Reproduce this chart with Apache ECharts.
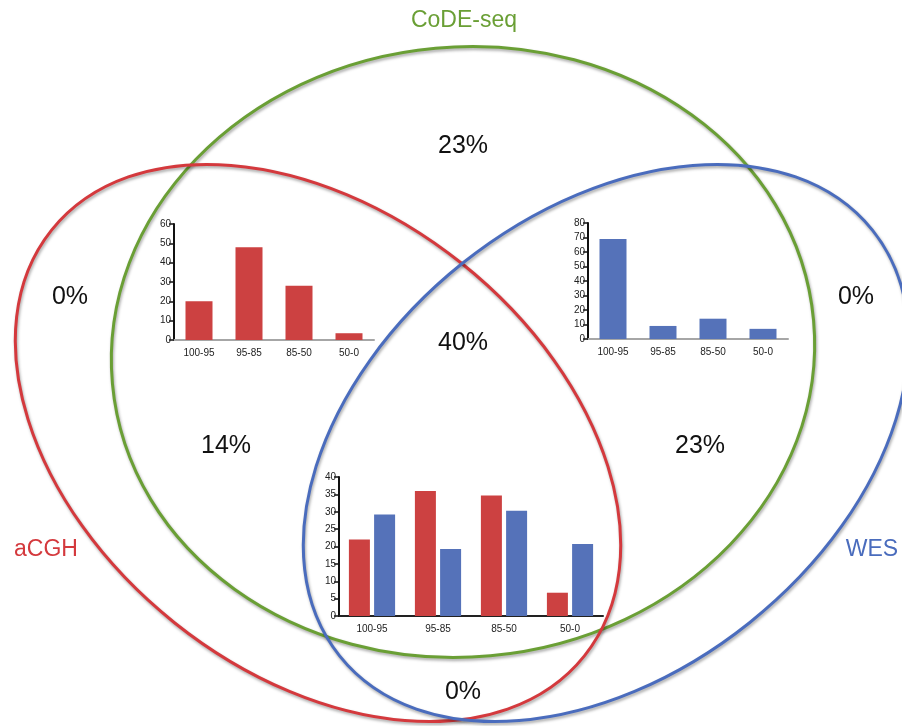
<!DOCTYPE html>
<html>
<head>
<meta charset="utf-8">
<script src="https://cdn.jsdelivr.net/npm/echarts@6/dist/echarts.min.js"></script>
<style>
  html, body { margin: 0; padding: 0; background: #ffffff; }
  #chart { width: 902px; height: 726px; }
</style>
</head>
<body>
<div id="chart"></div>
<script>
// Concordance bins shared by all three histograms
const bins = ['100-95', '95-85', '85-50', '50-0'];

// aCGH ∩ CoDE-seq histogram
const acghCodeseq = [20, 48, 28, 3.5];
// WES ∩ CoDE-seq histogram
const wesCodeseq = [69, 9, 14, 7];
// aCGH ∩ WES ∩ CoDE-seq histograms
const tripleAcgh = [22, 36, 34.7, 6.7];
const tripleWes = [29.2, 19.3, 30.3, 20.7];

// Method names and region shares
const methods = ['aCGH', 'CoDE-seq', 'WES'];
const regionShares = ['0%', '23%', '0%', '40%', '14%', '23%', '0%'];

// Outline colours for each method
const COLORS = { 'aCGH': '#d4393d', 'CoDE-seq': '#6a9f35', 'WES': '#4a6cbd' };
const BAR_RED = '#cc4141';
const BAR_BLUE = '#5572b9';

// Ellipse geometry of each set outline
const outlines = [
  { name: 'CoDE-seq', cx: 463, cy: 352, rx: 352, ry: 305, rot: 0.09 },
  { name: 'aCGH',     cx: 318, cy: 443, rx: 341, ry: 230, rot: -0.674 },
  { name: 'WES',      cx: 606, cy: 443, rx: 341, ry: 230, rot: 0.674 }
];

// Where the method names and shares are written
const nameSpots = [
  { x: 46, y: 550 },   // aCGH
  { x: 464, y: 21 },   // CoDE-seq
  { x: 872, y: 550 }   // WES
];
const shareSpots = [
  { x: 70, y: 297 }, { x: 463, y: 146 }, { x: 856, y: 297 },
  { x: 463, y: 343 }, { x: 226, y: 446 }, { x: 700, y: 446 },
  { x: 463, y: 692 }
];

const FONT = '"Liberation Sans", Arial, sans-serif';

const shadow = {
  shadowBlur: 3,
  shadowColor: 'rgba(0,0,0,0.35)',
  shadowOffsetX: 1,
  shadowOffsetY: 2
};

const graphics = [];
outlines.forEach(function (o) {
  graphics.push({
    type: 'ellipse',
    x: o.cx, y: o.cy,
    rotation: o.rot,
    shape: { cx: 0, cy: 0, rx: o.rx, ry: o.ry },
    style: Object.assign({ fill: null, stroke: COLORS[o.name], lineWidth: 3 }, shadow),
    z: 0
  });
});
methods.forEach(function (m, i) {
  graphics.push({
    type: 'text',
    x: nameSpots[i].x, y: nameSpots[i].y,
    style: {
      text: m, fill: COLORS[m],
      font: '23px ' + FONT,
      align: 'center', verticalAlign: 'middle'
    },
    z: 5
  });
});
regionShares.forEach(function (s, i) {
  graphics.push({
    type: 'text',
    x: shareSpots[i].x, y: shareSpots[i].y,
    style: {
      text: s, fill: '#111111',
      font: '25px ' + FONT,
      align: 'center', verticalAlign: 'middle'
    },
    z: 5
  });
});

function xAxisFor(gridIndex, lineColor) {
  return {
    type: 'category', gridIndex: gridIndex, data: bins,
    axisLine: { show: true, lineStyle: { color: lineColor, width: 2 } },
    axisTick: { show: false },
    axisLabel: { fontSize: 10, color: '#222', margin: 8, fontFamily: FONT },
    splitLine: { show: false }
  };
}
function yAxisFor(gridIndex, max, interval) {
  return {
    type: 'value', gridIndex: gridIndex, min: 0, max: max, interval: interval,
    axisLine: { show: true, lineStyle: { color: '#111', width: 2 } },
    axisTick: { show: true, length: 5, lineStyle: { color: '#111', width: 1.5 } },
    axisLabel: { fontSize: 10, color: '#222', margin: 3, fontFamily: FONT },
    splitLine: { show: false }
  };
}

const option = {
  backgroundColor: '#ffffff',
  animation: false,
  graphic: graphics,
  grid: [
    { left: 174, top: 224, width: 200, height: 116 },
    { left: 588, top: 223, width: 200, height: 116 },
    { left: 339, top: 477, width: 264, height: 139 }
  ],
  xAxis: [
    xAxisFor(0, '#a6a6a6'),
    xAxisFor(1, '#a6a6a6'),
    xAxisFor(2, '#222222')
  ],
  yAxis: [
    yAxisFor(0, 60, 10),
    yAxisFor(1, 80, 10),
    yAxisFor(2, 40, 5)
  ],
  series: [
    {
      name: 'aCGH', type: 'bar', xAxisIndex: 0, yAxisIndex: 0,
      data: acghCodeseq, barWidth: 27,
      itemStyle: { color: BAR_RED }
    },
    {
      name: 'WES', type: 'bar', xAxisIndex: 1, yAxisIndex: 1,
      data: wesCodeseq, barWidth: 27,
      itemStyle: { color: BAR_BLUE }
    },
    {
      name: 'aCGH', type: 'bar', xAxisIndex: 2, yAxisIndex: 2,
      data: tripleAcgh, barWidth: 21, barGap: '20%',
      itemStyle: { color: BAR_RED }
    },
    {
      name: 'WES', type: 'bar', xAxisIndex: 2, yAxisIndex: 2,
      data: tripleWes, barWidth: 21, barGap: '20%',
      itemStyle: { color: BAR_BLUE }
    }
  ]
};

const chart = echarts.init(document.getElementById('chart'), null, { renderer: 'canvas' });
chart.setOption(option);
</script>
</body>
</html>
